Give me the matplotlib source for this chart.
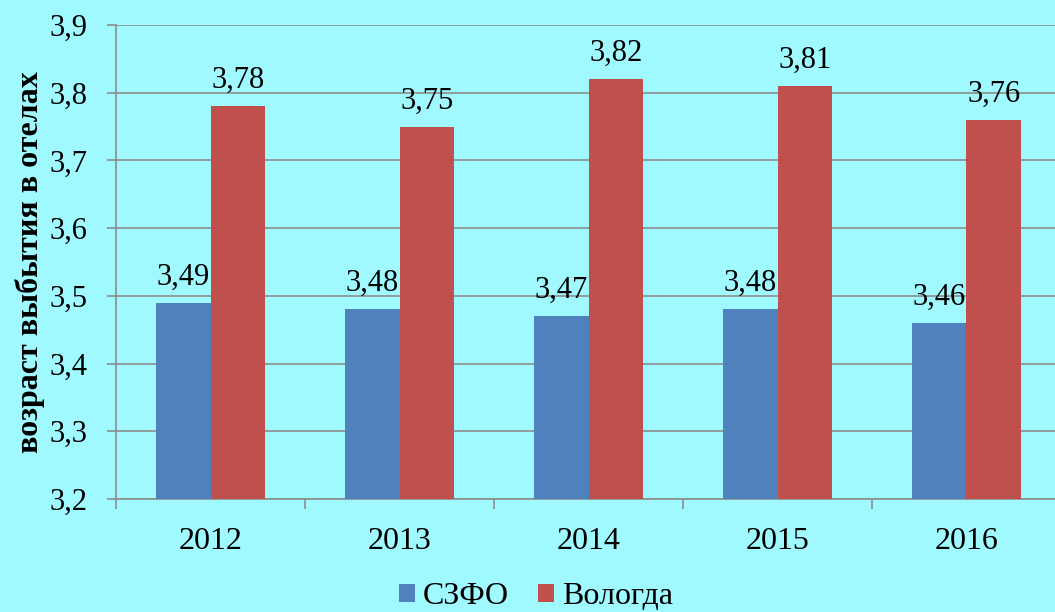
import matplotlib.pyplot as plt
import numpy as np

# data
years = ['2012', '2013', '2014', '2015', '2016']
szfo = [3.49, 3.48, 3.47, 3.48, 3.46]
vologda = [3.78, 3.75, 3.82, 3.81, 3.76]
yticks = [3.2, 3.3, 3.4, 3.5, 3.6, 3.7, 3.8, 3.9]

bg = '#A0F9FF'
blue = '#4F81BD'
red = '#C0504D'
grid_col = '#8C8C8C'

plt.rcParams['font.family'] = ['Liberation Serif', 'DejaVu Serif']

fig = plt.figure(figsize=(10.55, 6.12), dpi=100, facecolor=bg)
# plot area runs slightly past the right edge, as in the reference
ax = fig.add_axes([116 / 1055, 1 - 499 / 612, (1061 - 116) / 1055, (499 - 25) / 612])
ax.set_facecolor(bg)

x = np.arange(len(years))
w = 0.29
b1 = ax.bar(x - w / 2, szfo, w, color=blue, label='СЗФО', zorder=3)
b2 = ax.bar(x + w / 2, vologda, w, color=red, label='Вологда', zorder=3)

def fmt(v):
    return f'{v:.2f}'.replace('.', ',')

for rect, v in zip(b1, szfo):
    ax.annotate(fmt(v), (rect.get_x() + rect.get_width() / 2, v),
                xytext=(0, 8), textcoords='offset points',
                ha='center', va='bottom', fontsize=22)
for rect, v in zip(b2, vologda):
    ax.annotate(fmt(v), (rect.get_x() + rect.get_width() / 2, v),
                xytext=(0, 8), textcoords='offset points',
                ha='center', va='bottom', fontsize=22)

ax.set_ylim(3.2, 3.9)
ax.set_yticks(yticks)
ax.set_yticklabels([f'{t:.1f}'.replace('.', ',') for t in yticks], fontsize=22)
ax.yaxis.grid(True, color=grid_col, linewidth=1.2, zorder=0)
ax.tick_params(axis='y', length=6.5, color=grid_col, width=1.2, pad=14)

ax.set_xlim(-0.5, len(years) - 0.5)
ax.set_xticks(x)
ax.set_xticklabels(years, fontsize=23)
ax.set_xticks(np.arange(len(years) + 1) - 0.5, minor=True)
ax.tick_params(axis='x', which='major', length=0, pad=20)
ax.tick_params(axis='x', which='minor', length=7, color=grid_col, width=1.2)

for s in ['top', 'right']:
    ax.spines[s].set_visible(False)
for s in ['left', 'bottom']:
    ax.spines[s].set_color(grid_col)
    ax.spines[s].set_linewidth(1.2)

fig.text(30 / 1055, 1 - 262 / 612, 'возраст выбытия в отелах', rotation=90,
         ha='center', va='center', fontsize=23, fontweight='bold')

fig.legend(loc='center', bbox_to_anchor=(536 / 1055, 1 - 597 / 612), ncol=2,
           frameon=False, prop={'family': 'Liberation Serif', 'size': 23},
           handlelength=0.5, handleheight=0.5,
           handletextpad=0.25, columnspacing=0.9)

fig.savefig('out.png', dpi=100, facecolor=bg)
